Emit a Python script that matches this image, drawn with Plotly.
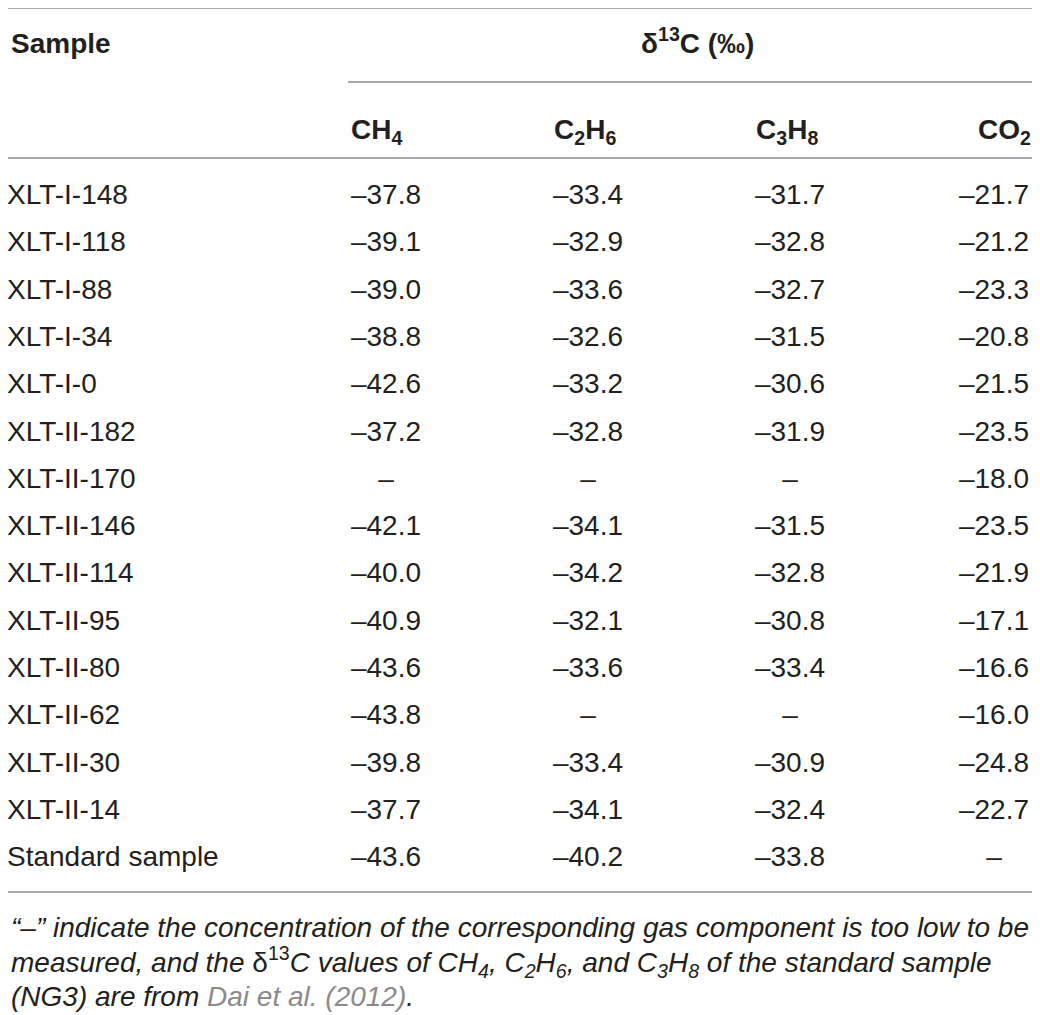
import plotly.graph_objects as go

# table content
samples = ["XLT-I-148", "XLT-I-118", "XLT-I-88", "XLT-I-34", "XLT-I-0",
           "XLT-II-182", "XLT-II-170", "XLT-II-146", "XLT-II-114", "XLT-II-95",
           "XLT-II-80", "XLT-II-62", "XLT-II-30", "XLT-II-14", "Standard sample"]
ch4 = [-37.8, -39.1, -39.0, -38.8, -42.6, -37.2, None, -42.1, -40.0, -40.9,
       -43.6, -43.8, -39.8, -37.7, -43.6]
c2h6 = [-33.4, -32.9, -33.6, -32.6, -33.2, -32.8, None, -34.1, -34.2, -32.1,
        -33.6, None, -33.4, -34.1, -40.2]
c3h8 = [-31.7, -32.8, -32.7, -31.5, -30.6, -31.9, None, -31.5, -32.8, -30.8,
        -33.4, None, -30.9, -32.4, -33.8]
co2 = [-21.7, -21.2, -23.3, -20.8, -21.5, -23.5, -18.0, -23.5, -21.9, -17.1,
       -16.6, -16.0, -24.8, -22.7, None]
col_headers = ["CH<sub>4</sub>", "C<sub>2</sub>H<sub>6</sub>",
               "C<sub>3</sub>H<sub>8</sub>", "CO<sub>2</sub>"]
group_header = "δ<sup>13</sup>C (‰)"
footnote = [
    "<i>“–” indicate the concentration of the corresponding gas component is too low to be</i>",
    "<i>measured, and the </i>δ<sup>13</sup><i>C values of CH<sub>4</sub>, C<sub>2</sub>H<sub>6</sub>, "
    "and C<sub>3</sub>H<sub>8</sub> of the standard sample</i>",
    "<i>(NG3) are from <span style='color:#8a8a8a'>Dai et al. (2012)</span>.</i>",
]

# layout constants (page pixels; the page body keeps an 8px margin)
PAGE_W, PAGE_H, PAD = 1040, 1015, 8
FONT = "Liberation Sans"
SIZE = 28
TXT = "#231f20"
RULE = "#8c8c8c"
row_top, row_step = 197, 47.3
col_x = [386, 588, 790, 994]          # value column centres
head_x = [349, 552, 754, 1033]        # header anchors
DASH = "–"


def fmt(v):
    return DASH if v is None else f"{DASH}{abs(v):.1f}"


ypix = [row_top + row_step * i for i in range(len(samples))]

fig = go.Figure()
fig.add_trace(go.Scatter(x=[7] * len(samples), y=ypix, text=samples, mode="text",
                         textposition="middle right",
                         textfont=dict(family=FONT, size=SIZE, color=TXT),
                         hoverinfo="skip"))
for cx, vals in zip(col_x, [ch4, c2h6, c3h8, co2]):
    fig.add_trace(go.Scatter(x=[cx] * len(vals), y=ypix, text=[fmt(v) for v in vals],
                             mode="text", textposition="middle center",
                             textfont=dict(family=FONT, size=SIZE, color=TXT),
                             hoverinfo="skip"))

ann = [dict(x=9, y=43, text="<b>Sample</b>", xanchor="left")]
ann.append(dict(x=697, y=41, text="<b>" + group_header + "</b>", xanchor="center"))
for i, (hx, h) in enumerate(zip(head_x, col_headers)):
    ann.append(dict(x=hx, y=131, text="<b>" + h + "</b>",
                    xanchor="right" if i == 3 else "left"))
for i, line in enumerate(footnote):
    ann.append(dict(x=9, y=927 + 34.5 * i, text=line, xanchor="left"))
for a in ann:
    a.update(xref="x", yref="y", yanchor="middle", showarrow=False,
             font=dict(family=FONT, size=SIZE, color=TXT))
fig.update_layout(annotations=ann)

for x0, x1, y in [(PAD, PAGE_W, 8), (348, 1034, 82), (PAD, PAGE_W, 158), (PAD, PAGE_W, 892)]:
    fig.add_shape(type="line", xref="x", yref="y", x0=x0, x1=x1, y0=y, y1=y,
                  line=dict(color=RULE, width=1.5))

fig.update_layout(
    width=PAGE_W - PAD, height=PAGE_H - PAD, margin=dict(l=0, r=0, t=0, b=0),
    paper_bgcolor="white", plot_bgcolor="white", showlegend=False,
    xaxis=dict(range=[PAD, PAGE_W], visible=False, fixedrange=True),
    yaxis=dict(range=[PAGE_H, PAD], visible=False, fixedrange=True),
)
fig.write_html("out.html", config={"displayModeBar": False})
